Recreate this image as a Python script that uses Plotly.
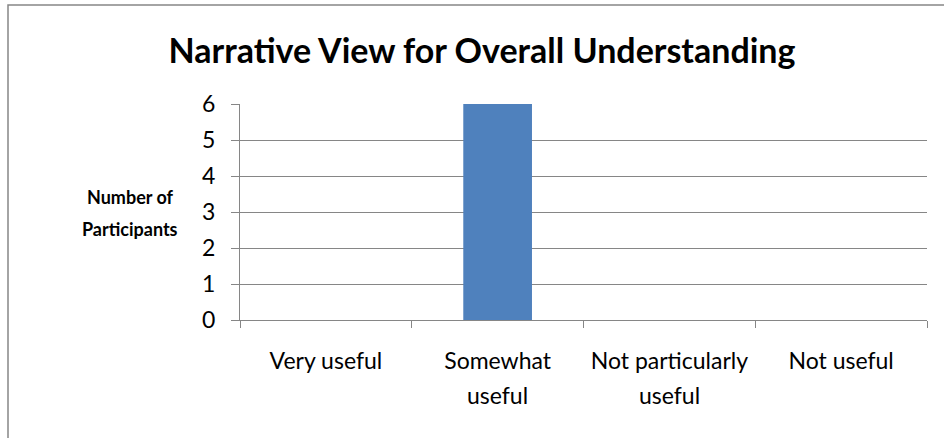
import plotly.graph_objects as go

categories = ["Very useful", "Somewhat useful", "Not particularly useful", "Not useful"]
label_line1 = ["Very useful", "Somewhat", "Not particularly", "Not useful"]
label_line2 = ["", "useful", "useful", ""]
participants = [0, 6, 0, 0]
y_ticks = [0, 1, 2, 3, 4, 5, 6]

FONT = "Lato"
GRID = "#868686"

fig = go.Figure(
    go.Bar(
        x=categories,
        y=participants,
        marker=dict(color="#4F81BD", line=dict(width=0)),
        width=0.4,
    )
)

# plot area spans px 240..927 horizontally and 104..320 vertically
W, H = 944, 438
L, R, T, B = 240, 17, 104, 118
pw = W - L - R
ph = H - T - B

def px_x(x):
    return (x - L) / pw

def px_y(y):
    return (H - B - y) / ph

annotations = [
    dict(
        text="<b>Number of</b>",
        xref="paper", yref="paper",
        x=px_x(130), y=px_y(197),
        xanchor="center", yanchor="middle",
        showarrow=False,
        font=dict(family=FONT, size=18, color="black"),
    ),
    dict(
        text="<b>Participants</b>",
        xref="paper", yref="paper",
        x=px_x(130), y=px_y(229),
        xanchor="center", yanchor="middle",
        showarrow=False,
        font=dict(family=FONT, size=18, color="black"),
    ),
]

# second line of the wrapped category labels, set with wider line spacing
for cat, line in zip(categories, label_line2):
    if line:
        annotations.append(
            dict(
                text=line,
                xref="x", yref="paper",
                x=cat, y=px_y(395),
                xanchor="center", yanchor="middle",
                showarrow=False,
                font=dict(family=FONT, size=23, color="black"),
            )
        )

fig.update_layout(
    width=W,
    height=H,
    margin=dict(l=L, r=R, t=T, b=B, autoexpand=False),
    paper_bgcolor="white",
    plot_bgcolor="white",
    showlegend=False,
    bargap=0.6,
    font=dict(family=FONT, size=23, color="black"),
    title=dict(
        text="<b>Narrative View for Overall Understanding</b>",
        font=dict(family=FONT, size=34, color="black"),
        x=482 / W,
        xanchor="center",
        xref="container",
        y=1 - 51 / H,
        yanchor="middle",
    ),
    xaxis=dict(
        type="category",
        tickvals=categories,
        ticktext=label_line1,
        showgrid=False,
        showline=True,
        linecolor=GRID,
        linewidth=1.3,
        ticks="outside",
        tickson="boundaries",
        ticklen=7,
        tickcolor=GRID,
        tickwidth=1.3,
        tickangle=0,
        automargin=False,
        ticklabelstandoff=20,
        tickfont=dict(family=FONT, size=23, color="black"),
        fixedrange=True,
    ),
    yaxis=dict(
        range=[0, 6],
        tickvals=y_ticks,
        showgrid=True,
        gridcolor=GRID,
        gridwidth=1.3,
        showline=True,
        linecolor=GRID,
        linewidth=1.3,
        ticks="outside",
        ticklen=8,
        tickcolor=GRID,
        tickwidth=1.3,
        ticklabelstandoff=11,
        zeroline=False,
        automargin=False,
        tickfont=dict(family=FONT, size=23, color="black"),
        fixedrange=True,
    ),
    annotations=annotations,
    shapes=[
        dict(
            type="rect",
            xref="paper",
            yref="paper",
            x0=px_x(8),
            x1=px_x(960),
            y0=px_y(460),
            y1=px_y(5),
            line=dict(color="#868686", width=1.5),
            fillcolor="rgba(0,0,0,0)",
            layer="below",
        )
    ],
)

fig.write_html("out.html")
